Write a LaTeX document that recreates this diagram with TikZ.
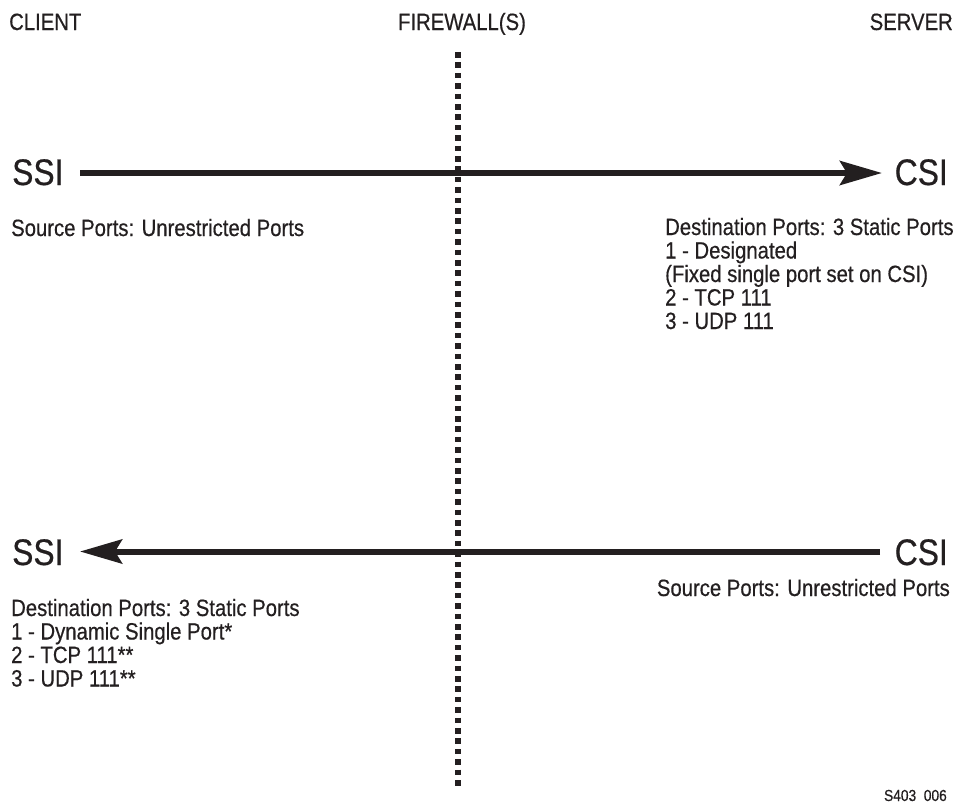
\documentclass[tikz,border=0pt]{standalone}
\usepackage{fontspec}
\setmainfont[FakeStretch=0.86, FakeBold=0.5]{Liberation Sans}
\usetikzlibrary{arrows.meta}
\definecolor{ink}{HTML}{231F20}
\tikzset{
  txt/.style={inner sep=0pt, text=ink, align=left, font=\fontsize{23.6}{23.5}\selectfont},
  big/.style={inner sep=0pt, text=ink, font=\fontsize{37}{38}\selectfont},
  flow/.style={draw=ink, line width=6pt, -{Stealth[length=42pt, width=24pt, inset=7pt]}},
  wall/.style={draw=ink, line width=5.5pt, dash pattern=on 5.5pt off 4.9pt}
}
\begin{document}
\begin{tikzpicture}[x=1pt, y=-1pt]
\useasboundingbox (0,0) rectangle (962,807);
% headers
\node[txt, anchor=base west] (client) at (9,30) {CLIENT};
\node[txt, anchor=base] (fw) at (462,30) {FIREWALL(S)};
\node[txt, anchor=base east] (server) at (953,30) {SERVER};
% firewall
\coordinate (fwtop) at (458,52);
\coordinate (fwbot) at (458,790);
\draw[wall] (fwtop) -- (fwbot);
% top flow
\node[big, anchor=base west] (ssi1) at (12,185) {SSI};
\node[big, anchor=base east] (csi1) at (948,185) {CSI};
\coordinate (a1s) at (80,173);
\coordinate (a1e) at (882,173);
\draw[flow] (a1s) -- (a1e);
\node[txt, anchor=base west] (src1) at (11,236) {Source Ports: Unrestricted Ports};
\node[txt, anchor=base west] (dst1) at (665,329) {Destination Ports: 3 Static Ports\\1 - Designated\\(Fixed single port set on CSI)\\2 - TCP 111\\3 - UDP 111};
% bottom flow
\node[big, anchor=base west] (ssi2) at (12,565) {SSI};
\node[big, anchor=base east] (csi2) at (948,565) {CSI};
\coordinate (a2s) at (880,551.5);
\coordinate (a2e) at (80,551.5);
\draw[flow] (a2s) -- (a2e);
\node[txt, anchor=base west] (dst2) at (11,686.5) {Destination Ports: 3 Static Ports\\1 - Dynamic Single Port*\\2 - TCP 111**\\3 - UDP 111**};
\node[txt, anchor=base east] (src2) at (950,596) {Source Ports: Unrestricted Ports};
% figure id
\node[inner sep=0pt, text=ink, anchor=base east, font=\fontsize{16}{18}\selectfont] (fig) at (947,801) {S403\ \ 006};
\end{tikzpicture}
\end{document}
